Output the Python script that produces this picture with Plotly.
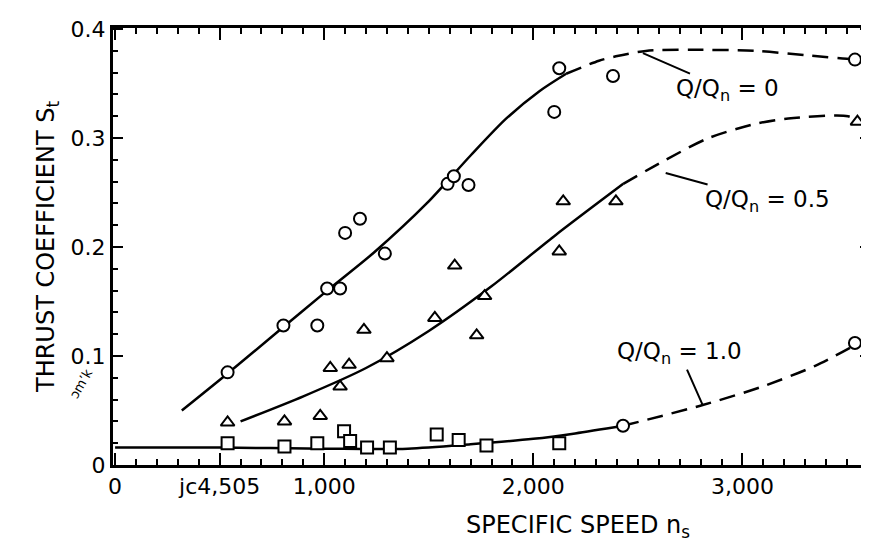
import plotly.graph_objects as go

# ---- data ----
ns_circ0 = [538, 805, 967, 1014, 1076, 1100, 1171, 1290, 1590, 1620, 1690, 2100, 2124, 2381, 3538]
ct_circ0 = [0.085, 0.128, 0.128, 0.162, 0.162, 0.213, 0.226, 0.194, 0.258, 0.265, 0.257, 0.324, 0.364, 0.357, 0.372]

fit0_solid_x = [319, 538, 776, 1014, 1238, 1490, 1700, 1871, 2029, 2157]
fit0_solid_y = [0.050, 0.084, 0.122, 0.160, 0.195, 0.240, 0.284, 0.318, 0.343, 0.359]
fit0_dash_x = [2157, 2314, 2395, 2538, 2760, 3062, 3300, 3538, 3610]
fit0_dash_y = [0.359, 0.371, 0.375, 0.380, 0.381, 0.380, 0.376, 0.372, 0.370]

ns_tri = [538, 810, 981, 1029, 1119, 1076, 1190, 1300, 1529, 1624, 1729, 1767, 2124, 2143, 2395, 3550]
ct_tri = [0.039, 0.040, 0.045, 0.089, 0.092, 0.072, 0.124, 0.098, 0.135, 0.183, 0.119, 0.155, 0.196, 0.242, 0.242, 0.315]

fit05_solid_x = [600, 900, 1200, 1500, 1800, 2100, 2430]
fit05_solid_y = [0.040, 0.063, 0.089, 0.123, 0.164, 0.210, 0.258]
fit05_dash_x = [2430, 2633, 2838, 3062, 3219, 3505, 3560]
fit05_dash_y = [0.258, 0.280, 0.300, 0.313, 0.318, 0.320, 0.315]

ns_sq = [538, 810, 967, 1095, 1124, 1205, 1314, 1538, 1643, 1776, 2124]
ct_sq = [0.020, 0.017, 0.020, 0.031, 0.022, 0.016, 0.016, 0.028, 0.023, 0.018, 0.020]
ns_circ1 = [2429, 3538]
ct_circ1 = [0.036, 0.112]

fit1_solid_x = [0, 500, 1000, 1400, 1700, 2000, 2200, 2429]
fit1_solid_y = [0.016, 0.016, 0.015, 0.015, 0.019, 0.024, 0.029, 0.036]
fit1_dash_x = [2429, 2810, 3095, 3348, 3538]
fit1_dash_y = [0.036, 0.055, 0.072, 0.091, 0.110]

x_tickvals = [0, 500, 1000, 2000, 3000]
x_ticktext = ["0", "jc4,505", "1,000", "2,000", "3,000"]
y_tickvals = [0, 0.1, 0.2, 0.3, 0.4]
y_ticktext = ["0", "0.1", "0.2", "0.3", "0.4"]

INK = "black"
FONT = "DejaVu Sans"

fig = go.Figure()

def line(x, y, dash=None):
    fig.add_trace(go.Scatter(x=x, y=y, mode="lines", line_shape="spline",
                             line=dict(color=INK, width=2.5, dash=dash or "solid", smoothing=0.8),
                             showlegend=False, hoverinfo="skip"))

def pts(x, y, symbol):
    fig.add_trace(go.Scatter(x=x, y=y, mode="markers", cliponaxis=False,
                             marker=dict(symbol=symbol, size=12, color="white",
                                         line=dict(color=INK, width=2)),
                             showlegend=False))

line(fit0_solid_x, fit0_solid_y)
line(fit0_dash_x, fit0_dash_y, "16px,9px")
line(fit05_solid_x, fit05_solid_y)
line(fit05_dash_x, fit05_dash_y, "16px,9px")
line(fit1_solid_x, fit1_solid_y)
line(fit1_dash_x, fit1_dash_y, "16px,9px")

pts(ns_circ0, ct_circ0, "circle")
pts(ns_tri, ct_tri, "triangle-up")
pts(ns_sq, ct_sq, "square")
pts(ns_circ1, ct_circ1, "circle")

ann_font = dict(family=FONT, size=23, color=INK)
fig.add_annotation(x=2524, y=0.378, text="Q/Q<sub>n</sub> = 0", showarrow=True,
                   arrowhead=0, arrowwidth=2, arrowcolor=INK, ax=85, ay=37, font=ann_font)
fig.add_annotation(x=2633, y=0.268, text="Q/Q<sub>n</sub> = 0.5", showarrow=True,
                   arrowhead=0, arrowwidth=2, arrowcolor=INK, ax=102, ay=28, font=ann_font)
fig.add_annotation(x=2810, y=0.055, text="Q/Q<sub>n</sub> = 1.0", showarrow=True,
                   arrowhead=0, arrowwidth=2, arrowcolor=INK, ax=-23, ay=-52, font=ann_font)

# x-axis title (placed right of centre, as in the scan)
fig.add_annotation(xref="paper", yref="paper", x=0.614, y=-0.14, xanchor="center", yanchor="middle",
                   text="SPECIFIC SPEED n<sub>s</sub>", showarrow=False,
                   font=dict(family=FONT, size=24, color=INK))
# small scanned mark near the origin
fig.add_annotation(xref="paper", yref="paper", x=-0.065, y=0.14, text="ɔm’k", showarrow=False,
                   textangle=-60, font=dict(family=FONT, size=13, color=INK))

fig.update_layout(
    width=869, height=546,
    margin=dict(l=105, r=4, t=20, b=89),
    paper_bgcolor="white", plot_bgcolor="white",
    font=dict(family=FONT, size=22, color=INK),
    xaxis=dict(range=[-10, 3610], tickvals=x_tickvals, ticktext=x_ticktext,
               ticks="inside", ticklen=12, tickwidth=2, tickcolor=INK,
               minor=dict(dtick=100, ticks="inside", ticklen=6, tickwidth=1.5, tickcolor=INK),
               showline=True, linewidth=3, linecolor=INK, mirror="ticks",
               showgrid=False, zeroline=False, tickfont=dict(size=22)),
    yaxis=dict(range=[0, 0.401], tickvals=y_tickvals, ticktext=y_ticktext,
               ticks="inside", ticklen=10, tickwidth=2, tickcolor=INK,
               minor=dict(dtick=0.02, ticks="inside", ticklen=5, tickwidth=1.5, tickcolor=INK),
               showline=True, linewidth=3, linecolor=INK, mirror="ticks",
               showgrid=False, zeroline=False, tickfont=dict(size=22),
               title=dict(text="THRUST COEFFICIENT S<sub>t</sub>", font=dict(size=24), standoff=10)),
)

fig.write_html("out.html")
